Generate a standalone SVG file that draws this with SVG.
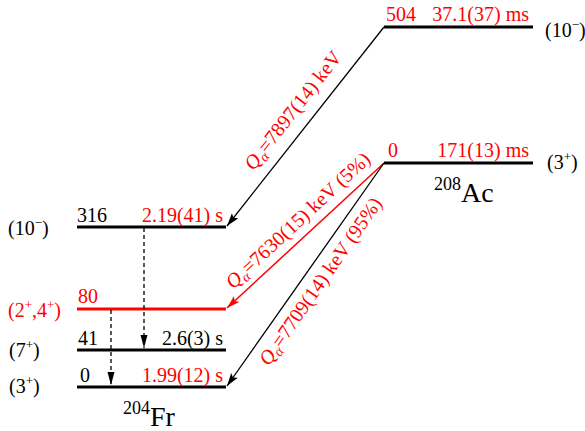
<svg xmlns="http://www.w3.org/2000/svg" width="585" height="431" viewBox="0 0 585 431" font-family="'Liberation Serif', 'Times New Roman', Times, 'DejaVu Serif', serif" font-size="20">
<style>
.r{fill:#ff0000}
.e{text-anchor:end}
.m{text-anchor:middle}
.lv{stroke:#000;stroke-width:3;fill:none}
.lvr{stroke:#ff0000;stroke-width:3;fill:none}
.dk{stroke:#000;stroke-width:1.3;fill:none}
.rd{stroke:#ff0000;stroke-width:1.5;fill:none}
.ds{stroke:#000;stroke-width:1.3;stroke-dasharray:4,3;fill:none}
.big{font-size:28px}
.sup{font-size:18px}
</style>
<defs>
<marker id="ak" markerUnits="userSpaceOnUse" markerWidth="14" markerHeight="10" refX="13" refY="5" orient="auto"><path d="M0,1 L13,5 L0,9 L2.5,5 z" fill="#000"/></marker>
<marker id="ar" markerUnits="userSpaceOnUse" markerWidth="14" markerHeight="10" refX="13" refY="5" orient="auto"><path d="M0,1 L13,5 L0,9 L2.5,5 z" fill="#ff0000"/></marker>
<marker id="ad" markerUnits="userSpaceOnUse" markerWidth="14" markerHeight="8" refX="13" refY="4" orient="auto"><path d="M0,0.5 L13,4 L0,7.5 z" fill="#000"/></marker>
</defs>

<g id="ac-504">
<line class="lv" x1="384" y1="27" x2="533" y2="27"/>
<text class="r" x="386" y="21">504</text>
<text class="r e" x="529" y="21">37.1(37) ms</text>
<text x="545" y="37">(10<tspan font-size="13" dy="-8">−</tspan><tspan dy="8">)</tspan></text>
</g>
<g id="ac-0">
<line class="lv" x1="384" y1="163" x2="533" y2="163"/>
<text class="r" x="388" y="157">0</text>
<text class="r e" x="529" y="157">171(13) ms</text>
<text x="547" y="169">(3<tspan font-size="13" dy="-8">+</tspan><tspan dy="8">)</tspan></text>
<text x="434" y="190"><tspan class="sup">208</tspan><tspan class="big" dy="12">Ac</tspan></text>
</g>

<g id="fr-316">
<line class="lv" x1="77" y1="227" x2="226" y2="227"/>
<text x="77" y="222">316</text>
<text class="r e" x="223" y="222">2.19(41) s</text>
<text x="8" y="235">(10<tspan font-size="13" dy="-8">−</tspan><tspan dy="8">)</tspan></text>
</g>
<g id="fr-80">
<line class="lvr" x1="77" y1="309" x2="226" y2="309"/>
<text class="r" x="78" y="303">80</text>
<text class="r" x="8" y="317">(2<tspan font-size="13" dy="-8">+</tspan><tspan dy="8">,4</tspan><tspan font-size="13" dy="-8">+</tspan><tspan dy="8">)</tspan></text>
</g>
<g id="fr-41">
<line class="lv" x1="77" y1="350" x2="226" y2="350"/>
<text x="78" y="345">41</text>
<text class="e" x="223" y="345">2.6(3) s</text>
<text x="9" y="357">(7<tspan font-size="13" dy="-8">+</tspan><tspan dy="8">)</tspan></text>
</g>
<g id="fr-0">
<line class="lv" x1="77" y1="387" x2="226" y2="387"/>
<text x="80" y="382">0</text>
<text class="r e" x="223" y="382">1.99(12) s</text>
<text x="9" y="393">(3<tspan font-size="13" dy="-8">+</tspan><tspan dy="8">)</tspan></text>
<text x="123" y="414"><tspan class="sup">204</tspan><tspan class="big" dy="12">Fr</tspan></text>
</g>

<g id="connectors">
<line class="dk" x1="384" y1="27" x2="227" y2="226" marker-end="url(#ak)"/>
<line class="rd" x1="384" y1="163" x2="227" y2="308" marker-end="url(#ar)"/>
<line class="dk" x1="384" y1="163" x2="227" y2="386" marker-end="url(#ak)"/>
<line class="ds" x1="144" y1="228" x2="144" y2="348" marker-end="url(#ad)"/>
<line class="ds" x1="111" y1="310" x2="111" y2="385" marker-end="url(#ad)"/>
</g>

<g id="labels">
<g transform="translate(306,127) rotate(-52)">
<text class="r m" x="5" y="-14"><tspan font-style="italic">Q</tspan><tspan font-style="italic" font-size="14" dy="4">α</tspan><tspan dy="-4">=7897(14) keV</tspan></text>
</g>
<g transform="translate(305.5,236) rotate(-42.9)">
<text class="r m" x="5" y="-10"><tspan font-style="italic">Q</tspan><tspan font-style="italic" font-size="14" dy="4">α</tspan><tspan dy="-4">=7630(15) keV (5%)</tspan></text>
</g>
<g transform="translate(306,275) rotate(-55.1)">
<text class="r m" x="3" y="22"><tspan font-style="italic">Q</tspan><tspan font-style="italic" font-size="14" dy="4">α</tspan><tspan dy="-4">=7709(14) keV (95%)</tspan></text>
</g>
</g>
</svg>
